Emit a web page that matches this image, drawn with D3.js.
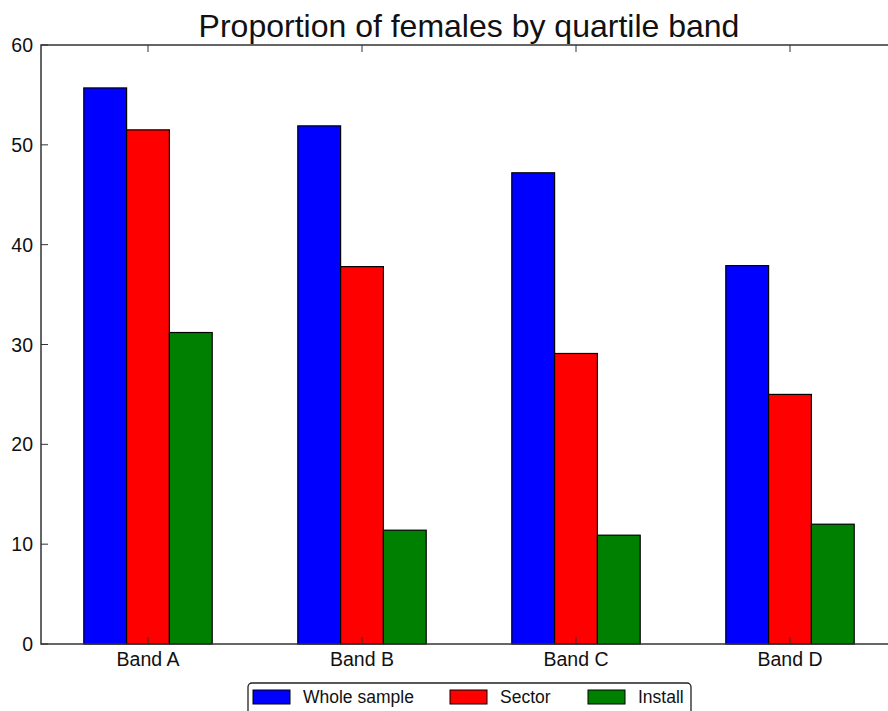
<!DOCTYPE html>
<html>
<head>
<meta charset="utf-8">
<script src="https://cdn.jsdelivr.net/npm/d3@7"></script>
<style>
  body { margin: 0; background: #fff; }
  svg { display: block; font-family: "Liberation Sans", Arial, sans-serif; }
</style>
</head>
<body>
<svg id="chart"></svg>
<script>
const categories = ["Band A", "Band B", "Band C", "Band D"];
const seriesNames = ["Whole sample", "Sector", "Install"];
const seriesColors = ["#0000ff", "#ff0000", "#008000"];
const wholeSample = [55.7, 51.9, 47.2, 37.9];
const sector = [51.5, 37.8, 29.1, 25.0];
const install = [31.2, 11.4, 10.9, 12.0];
const yTicks = [0, 10, 20, 30, 40, 50, 60];
const title = "Proportion of females by quartile band";

const width = 888;
const height = 711;
const margin = { top: 45, left: 41, bottom: 67 };
const plotRight = 897; // axes run past the window edge
const barWidth = 0.2;

const series = [wholeSample, sector, install];

const svg = d3.select("#chart")
  .attr("width", width)
  .attr("height", height);

const x = d3.scaleLinear()
  .domain([-0.5, categories.length - 0.5])
  .range([margin.left, plotRight]);

const y = d3.scaleLinear()
  .domain([0, 60])
  .range([height - margin.bottom, margin.top]);

// bars
series.forEach((vals, s) => {
  svg.append("g")
    .selectAll("rect")
    .data(vals)
    .enter()
    .append("rect")
    .attr("x", (d, i) => x(i + (s - 1.5) * barWidth))
    .attr("y", d => y(d))
    .attr("width", x(barWidth) - x(0))
    .attr("height", d => y(0) - y(d))
    .attr("fill", seriesColors[s])
    .attr("stroke", "#000")
    .attr("stroke-width", 1.2);
});

// frame
svg.append("rect")
  .attr("x", margin.left)
  .attr("y", margin.top)
  .attr("width", plotRight - margin.left)
  .attr("height", y(0) - margin.top)
  .attr("fill", "none")
  .attr("stroke", "#333")
  .attr("stroke-width", 1.5);

// y ticks (inward, classic style)
const yAxis = svg.append("g");
yTicks.forEach(t => {
  yAxis.append("line")
    .attr("x1", margin.left).attr("x2", margin.left + 7)
    .attr("y1", y(t)).attr("y2", y(t))
    .attr("stroke", "#333");
  yAxis.append("text")
    .attr("x", margin.left - 8)
    .attr("y", y(t))
    .attr("dy", "0.36em")
    .attr("text-anchor", "end")
    .attr("font-size", 19.5)
    .attr("fill", "#111")
    .text(t);
});

// x ticks, bottom and top
const xAxis = svg.append("g");
categories.forEach((c, i) => {
  xAxis.append("line")
    .attr("x1", x(i)).attr("x2", x(i))
    .attr("y1", y(0)).attr("y2", y(0) - 7)
    .attr("stroke", "#333");
  xAxis.append("line")
    .attr("x1", x(i)).attr("x2", x(i))
    .attr("y1", margin.top).attr("y2", margin.top + 7)
    .attr("stroke", "#333");
  xAxis.append("text")
    .attr("x", x(i))
    .attr("y", y(0) + 15)
    .attr("dy", "0.36em")
    .attr("text-anchor", "middle")
    .attr("font-size", 19.5)
    .attr("fill", "#111")
    .text(c);
});

// title
svg.append("text")
  .attr("x", (margin.left + plotRight) / 2)
  .attr("y", 37)
  .attr("text-anchor", "middle")
  .attr("font-size", 32)
  .attr("fill", "#111")
  .text(title);

// legend
const legend = svg.append("g");
legend.append("rect")
  .attr("x", 248).attr("y", 683)
  .attr("width", 443).attr("height", 40)
  .attr("rx", 4)
  .attr("fill", "#fff")
  .attr("stroke", "#222")
  .attr("stroke-width", 1.3);

const legendX = [253, 450, 588];
seriesNames.forEach((name, s) => {
  legend.append("rect")
    .attr("x", legendX[s]).attr("y", 690)
    .attr("width", 37).attr("height", 14)
    .attr("fill", seriesColors[s])
    .attr("stroke", "#000");
  legend.append("text")
    .attr("x", legendX[s] + 50)
    .attr("y", 697)
    .attr("dy", "0.36em")
    .attr("font-size", 17.5)
    .attr("fill", "#111")
    .text(name);
});
</script>
</body>
</html>
